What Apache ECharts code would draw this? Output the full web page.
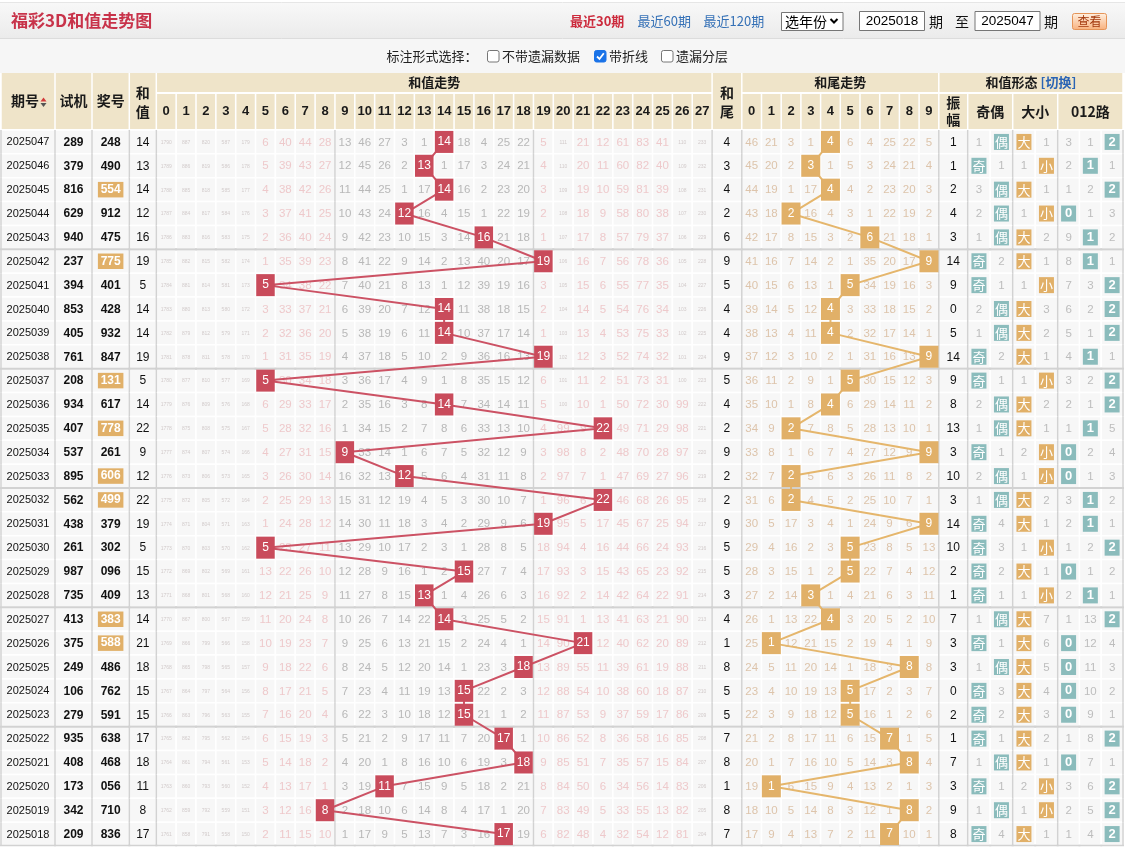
<!DOCTYPE html>
<html><head><meta charset="utf-8">
<script src="https://cdn.jsdelivr.net/npm/echarts@6/dist/echarts.min.js"></script>
<style>html,body{margin:0;padding:0;background:#fff}#c{width:1125px;height:848px}</style>
</head><body><div id="c"></div><script>
// ---------------- data ----------------
const periods = ['2025047','2025046','2025045','2025044','2025043','2025042','2025041','2025040','2025039','2025038','2025037','2025036','2025035','2025034','2025033','2025032','2025031','2025030','2025029','2025028','2025027','2025026','2025025','2025024','2025023','2025022','2025021','2025020','2025019','2025018'];
const trialNums = ['289','379','816','629','940','237','394','853','405','761','208','934','407','537','895','562','438','261','987','735','413','375','249','106','279','935','408','173','342','209'];
const prizeNums = ['248','490','554','912','475','775','401','428','932','847','131','617','778','261','606','499','379','302','096','409','383','588','486','762','591','638','468','056','710','836'];
const sumValues = [14,13,14,12,16,19,5,14,14,19,5,14,22,9,12,22,19,5,15,13,14,21,18,15,15,17,18,11,8,17];
const tailValues = [4,3,4,2,6,9,5,4,4,9,5,4,2,9,2,2,9,5,5,3,4,1,8,5,5,7,8,1,8,7];
const amplitudes = [1,1,2,4,3,14,9,0,5,14,9,8,13,3,10,3,14,10,2,1,7,3,3,0,2,1,7,3,9,8];

const sumTicks = ['0','1','2','3','4','5','6','7','8','9','10','11','12','13','14','15','16','17','18','19','20','21','22','23','24','25','26','27'];
const tailTicks = ['0','1','2','3','4','5','6','7','8','9'];
const oddEvenTicks = ['奇','偶'];
const bigSmallTicks = ['大','小'];
const roadTicks = ['0','1','2'];

// omission values per row ('*' = hit)
const sumMissRows = [
'1790 887 820 587 179 6 40 44 28 13 46 27 3 1 * 18 4 25 22 5 111 21 12 61 83 41 110 233',
'1789 886 819 586 178 5 39 43 27 12 45 26 2 * 1 17 3 24 21 4 110 20 11 60 82 40 109 232',
'1788 885 818 585 177 4 38 42 26 11 44 25 1 17 * 16 2 23 20 3 109 19 10 59 81 39 108 231',
'1787 884 817 584 176 3 37 41 25 10 43 24 * 16 4 15 1 22 19 2 108 18 9 58 80 38 107 230',
'1786 883 816 583 175 2 36 40 24 9 42 23 10 15 3 14 * 21 18 1 107 17 8 57 79 37 106 229',
'1785 882 815 582 174 1 35 39 23 8 41 22 9 14 2 13 40 20 17 * 106 16 7 56 78 36 105 228',
'1784 881 814 581 173 * 34 38 22 7 40 21 8 13 1 12 39 19 16 3 105 15 6 55 77 35 104 227',
'1783 880 813 580 172 3 33 37 21 6 39 20 7 12 * 11 38 18 15 2 104 14 5 54 76 34 103 226',
'1782 879 812 579 171 2 32 36 20 5 38 19 6 11 * 10 37 17 14 1 103 13 4 53 75 33 102 225',
'1781 878 811 578 170 1 31 35 19 4 37 18 5 10 2 9 36 16 13 * 102 12 3 52 74 32 101 224',
'1780 877 810 577 169 * 30 34 18 3 36 17 4 9 1 8 35 15 12 6 101 11 2 51 73 31 100 223',
'1779 876 809 576 168 6 29 33 17 2 35 16 3 8 * 7 34 14 11 5 100 10 1 50 72 30 99 222',
'1778 875 808 575 167 5 28 32 16 1 34 15 2 7 8 6 33 13 10 4 99 9 * 49 71 29 98 221',
'1777 874 807 574 166 4 27 31 15 * 33 14 1 6 7 5 32 12 9 3 98 8 2 48 70 28 97 220',
'1776 873 806 573 165 3 26 30 14 16 32 13 * 5 6 4 31 11 8 2 97 7 1 47 69 27 96 219',
'1775 872 805 572 164 2 25 29 13 15 31 12 19 4 5 3 30 10 7 1 96 6 * 46 68 26 95 218',
'1774 871 804 571 163 1 24 28 12 14 30 11 18 3 4 2 29 9 6 * 95 5 17 45 67 25 94 217',
'1773 870 803 570 162 * 23 27 11 13 29 10 17 2 3 1 28 8 5 18 94 4 16 44 66 24 93 216',
'1772 869 802 569 161 13 22 26 10 12 28 9 16 1 2 * 27 7 4 17 93 3 15 43 65 23 92 215',
'1771 868 801 568 160 12 21 25 9 11 27 8 15 * 1 4 26 6 3 16 92 2 14 42 64 22 91 214',
'1770 867 800 567 159 11 20 24 8 10 26 7 14 22 * 3 25 5 2 15 91 1 13 41 63 21 90 213',
'1769 866 799 566 158 10 19 23 7 9 25 6 13 21 15 2 24 4 1 14 90 * 12 40 62 20 89 212',
'1768 865 798 565 157 9 18 22 6 8 24 5 12 20 14 1 23 3 * 13 89 55 11 39 61 19 88 211',
'1767 864 797 564 156 8 17 21 5 7 23 4 11 19 13 * 22 2 3 12 88 54 10 38 60 18 87 210',
'1766 863 796 563 155 7 16 20 4 6 22 3 10 18 12 * 21 1 2 11 87 53 9 37 59 17 86 209',
'1765 862 795 562 154 6 15 19 3 5 21 2 9 17 11 7 20 * 1 10 86 52 8 36 58 16 85 208',
'1764 861 794 561 153 5 14 18 2 4 20 1 8 16 10 6 19 3 * 9 85 51 7 35 57 15 84 207',
'1763 860 793 560 152 4 13 17 1 3 19 * 7 15 9 5 18 2 21 8 84 50 6 34 56 14 83 206',
'1762 859 792 559 151 3 12 16 * 2 18 10 6 14 8 4 17 1 20 7 83 49 5 33 55 13 82 205',
'1761 858 791 558 150 2 11 15 10 1 17 9 5 13 7 3 16 * 19 6 82 48 4 32 54 12 81 204'];

const tailMissRows = [
'46 21 3 1 * 6 4 25 22 5','45 20 2 * 1 5 3 24 21 4','44 19 1 17 * 4 2 23 20 3','43 18 * 16 4 3 1 22 19 2','42 17 8 15 3 2 * 21 18 1',
'41 16 7 14 2 1 35 20 17 *','40 15 6 13 1 * 34 19 16 3','39 14 5 12 * 3 33 18 15 2','38 13 4 11 * 2 32 17 14 1','37 12 3 10 2 1 31 16 13 *',
'36 11 2 9 1 * 30 15 12 3','35 10 1 8 * 6 29 14 11 2','34 9 * 7 8 5 28 13 10 1','33 8 1 6 7 4 27 12 9 *','32 7 * 5 6 3 26 11 8 2',
'31 6 * 4 5 2 25 10 7 1','30 5 17 3 4 1 24 9 6 *','29 4 16 2 3 * 23 8 5 13','28 3 15 1 2 * 22 7 4 12','27 2 14 * 1 4 21 6 3 11',
'26 1 13 22 * 3 20 5 2 10','25 * 12 21 15 2 19 4 1 9','24 5 11 20 14 1 18 3 * 8','23 4 10 19 13 * 17 2 3 7','22 3 9 18 12 * 16 1 2 6',
'21 2 8 17 11 6 15 * 1 5','20 1 7 16 10 5 14 3 * 4','19 * 6 15 9 4 13 2 1 3','18 10 5 14 8 3 12 1 * 2','17 9 4 13 7 2 11 * 10 1'];

const oddEvenRows = ['1 *','* 1','3 *','2 *','1 *','* 2','* 1','2 *','1 *','* 2','* 1','2 *','1 *','* 1','2 *','1 *','* 4','* 3','* 2','* 1','1 *','* 1','1 *','* 3','* 2','* 1','1 *','* 1','1 *','* 4'];
const bigSmallRows = ['* 1','1 *','* 1','1 *','* 2','* 1','1 *','* 3','* 2','* 1','1 *','* 2','* 1','2 *','1 *','* 2','* 1','1 *','* 1','1 *','* 7','* 6','* 5','* 4','* 3','* 2','* 1','2 *','1 *','* 1'];
const road012Rows = ['3 1 *','2 * 1','1 2 *','* 1 3','9 * 2','8 * 1','7 3 *','6 2 *','5 1 *','4 * 1','3 2 *','2 1 *','1 * 5','* 2 4','* 1 3','3 * 2','2 * 1','1 2 *','* 1 2','2 * 1','1 13 *','* 12 4','* 11 3','* 10 2','* 9 1','1 8 *','* 7 1','3 6 *','2 5 *','1 4 *'];

// ---------------- styles / layout ----------------
const FONT = "'Liberation Sans', 'Noto Sans CJK SC', sans-serif";
const CJK = "'Noto Sans CJK SC', 'Liberation Sans', sans-serif";
const BEIGE = '#efe4c9', CELL_BG = '#f7f7f7', SEP = '#d2d2d2';
const RED = '#c94b5b', TAN = '#e1b068', TEAL = '#8bbcbc';
const TOP = 130, H = 716;
const layout = {
  period: [1, 54], trial: [55, 37], prize: [92, 37.3], sum: [129.3, 27],
  sumTrend: [156.3, 555.8], tail: [712.1, 29.7], tailTrend: [741.8, 197],
  amp: [938.8, 28.9], oe: [967.7, 45], bs: [1012.7, 45], road: [1057.7, 65.3],
  formHead: [938.8, 184.2]
};
const STYLES = {
  period: {color:'#111', size:11},
  num: {color:'#111', size:12, weight:'bold'},
  val: {color:'#111', size:12},
  missG: {color:'#b8b8b8', size:11.5},
  missP: {color:'#eec9cb', size:11.5},
  missT: {color:'#ddc4ab', size:11.5},
  missF: {color:'#bdbdbd', size:11.5},
  tiny: {color:'#d2cbcb', size:5}
};

const grids = [], xAxes = [], yAxes = [], series = [];
function addGrid(key) {
  const [left, width] = layout[key];
  grids.push({left, top: TOP, width, height: H, show: false, containLabel: false, outerBoundsMode: 'none'});
  yAxes.push({type:'category', gridIndex: grids.length-1, data: periods, inverse: true, show: false});
  return grids.length - 1;
}
function addXAxis(gi, data, label, offset) {
  xAxes.push({type:'category', gridIndex: gi, data, position:'top', offset: offset||0,
    axisLine:{show:false}, axisTick:{show:false}, splitLine:{show:false}, splitArea:{show:false},
    axisLabel: label ? Object.assign({show:true, interval:0, margin:1, hideOverlap:false}, label) : {show:false}});
  return xAxes.length - 1;
}
function hdr(w, h, extra) {
  return Object.assign({width:w, height:h, lineHeight:h, backgroundColor:BEIGE, color:'#1a1a1a',
    fontSize:13, fontWeight:'bold', fontFamily:CJK, align:'center', padding:0, overflow:'none'}, extra||{});
}
function addCells(gi, xi, cells, sepCols, rightEdgeCol) {
  const nRows = periods.length;
  series.push({
    type:'custom', xAxisIndex:xi, yAxisIndex:gi, z:1, silent:true, animation:false,
    data: cells.map(c => [c[0], c[1]]),
    renderItem: function (params, api) {
      const c = cells[params.dataIndex];
      const p = api.coord([c[0], c[1]]);
      const s = api.size([1, 1]);
      const x0 = p[0] - s[0]/2, y0 = p[1] - s[1]/2;
      const ch = [{type:'rect', z2:0, shape:{x:x0, y:y0, width:s[0], height:s[1]}, style:{fill:CELL_BG, stroke:'#fff', lineWidth:1.5}}];
      const st = STYLES[c[3]];
      if (c[2] !== '' && st) ch.push({type:'text', z2:5, style:{text:c[2], x:p[0], y:p[1]+0.5, align:'center', verticalAlign:'middle',
        fill:st.color, fontSize:st.size, fontWeight:st.weight||'normal', fontFamily:FONT}});
      if (c[1] % 5 === 0 && c[1] > 0) ch.push({type:'line', z2:8, shape:{x1:x0-1, y1:y0, x2:x0+s[0]+1, y2:y0}, style:{stroke:SEP, lineWidth:2}});
      if (c[1] === nRows-1) ch.push({type:'line', z2:8, shape:{x1:x0-1, y1:y0+s[1]-0.5, x2:x0+s[0]+1, y2:y0+s[1]-0.5}, style:{stroke:SEP, lineWidth:1.5}});
      if (sepCols.indexOf(c[0]) >= 0) ch.push({type:'line', z2:8, shape:{x1:x0, y1:y0, x2:x0, y2:y0+s[1]}, style:{stroke:SEP, lineWidth:1.5}});
      if (rightEdgeCol === c[0]) ch.push({type:'line', z2:8, shape:{x1:x0+s[0], y1:y0, x2:x0+s[0], y2:y0+s[1]}, style:{stroke:SEP, lineWidth:1.5}});
      return {type:'group', children: ch};
    }
  });
}
function addHits(gi, xi, items, color, size, font, fontSize, weight) {
  series.push({type:'scatter', xAxisIndex:xi, yAxisIndex:gi, z:3, silent:true, animation:false,
    symbol:'rect', symbolSize:size, itemStyle:{color:color, opacity:1},
    data: items.map(it => [it[0], it[1]]),
    label:{show:true, position:'inside', formatter: p => items[p.dataIndex][2], color:'#fff',
      fontSize:fontSize, fontFamily:font, fontWeight:weight||'normal'}});
}
function addLine(gi, xi, values, color) {
  series.push({type:'line', xAxisIndex:xi, yAxisIndex:gi, z:2, silent:true, animation:false, symbol:'none',
    data: values.map((v, i) => [v, i]), lineStyle:{color:color, width:2}});
}
const split = s => s.trim().split(/\s+/);
const hasPair = s => s[0]===s[1] || s[1]===s[2] || s[0]===s[2];

// period
let gi = addGrid('period');
let xi = addXAxis(gi, ['期号'], hdr(46.5, 56, {padding:[0,6,0,0], fontSize:14}));
addCells(gi, xi, periods.map((p, i) => [0, i, p, 'period']), [0]);
// trial
gi = addGrid('trial');
xi = addXAxis(gi, ['试机'], hdr(35.5, 56, {fontSize:14}));
addCells(gi, xi, trialNums.map((p, i) => [0, i, p, 'num']), [0]);
// prize
gi = addGrid('prize');
xi = addXAxis(gi, ['奖号'], hdr(35.8, 56, {fontSize:14}));
addCells(gi, xi, prizeNums.map((p, i) => [0, i, hasPair(p) ? '' : p, 'num']), [0]);
addHits(gi, xi, prizeNums.map((p, i) => [0, i, p]).filter(d => hasPair(d[2])), TAN, [25.5, 15.5], FONT, 12, 'bold');
// sum value
gi = addGrid('sum');
xi = addXAxis(gi, ['和\n值'], hdr(25.5, undefined, {lineHeight:19, padding:[10,0,8,0], fontSize:14}));
addCells(gi, xi, sumValues.map((v, i) => [0, i, String(v), 'val']), [0]);
// sum trend
gi = addGrid('sumTrend');
xi = addXAxis(gi, sumTicks, hdr(18.3, 35, {fontFamily:FONT}));
addXAxis(gi, ['和值走势'], hdr(554.3, 19), 37);
const sumCells = [], sumHits = [];
sumMissRows.forEach((row, r) => split(row).forEach((v, c) => {
  if (v === '*') { sumCells.push([c, r, '', 'missG']); sumHits.push([c, r, sumTicks[c]]); }
  else sumCells.push([c, r, v, (+v >= 100) ? 'tiny' : ((c <= 8 || c >= 19) ? 'missP' : 'missG')]);
}));
addCells(gi, xi, sumCells, [0, 9, 19]);
addLine(gi, xi, sumValues, '#cc5264');
addHits(gi, xi, sumHits, RED, [18.5, 22], FONT, 12);
// tail value
gi = addGrid('tail');
xi = addXAxis(gi, ['和\n尾'], hdr(28.2, undefined, {lineHeight:19, padding:[10,0,8,0], fontSize:14}));
addCells(gi, xi, tailValues.map((v, i) => [0, i, String(v), 'val']), [0]);
// tail trend
gi = addGrid('tailTrend');
xi = addXAxis(gi, tailTicks, hdr(18.2, 35, {fontFamily:FONT}));
addXAxis(gi, ['和尾走势'], hdr(195.5, 19), 37);
const tailCells = [], tailHits = [];
tailMissRows.forEach((row, r) => split(row).forEach((v, c) => {
  if (v === '*') { tailCells.push([c, r, '', 'missT']); tailHits.push([c, r, tailTicks[c]]); }
  else tailCells.push([c, r, v, 'missT']);
}));
addCells(gi, xi, tailCells, [0]);
addLine(gi, xi, tailValues, '#e5b66c');
addHits(gi, xi, tailHits, TAN, [19, 22], FONT, 12);
// amplitude
gi = addGrid('amp');
xi = addXAxis(gi, ['振\n幅'], hdr(27.4, undefined, {lineHeight:17, padding:[0.5,0,0.5,0], fontSize:14}));
addCells(gi, xi, amplitudes.map((v, i) => [0, i, String(v), 'val']), [0]);
// form sections
function formSection(key, ticks, title, rows, hitColor, rightEdge) {
  const g = addGrid(key);
  const x = addXAxis(g, ticks, null);
  addXAxis(g, [title], hdr(layout[key][1] - 1.5, 35, {fontSize:14}));
  const cells = [], hits = [];
  rows.forEach((row, r) => split(row).forEach((v, c) => {
    if (v === '*') { cells.push([c, r, '', 'missF']); hits.push([c, r, ticks[c]]); }
    else cells.push([c, r, v, 'missF']);
  }));
  addCells(g, x, cells, [0], rightEdge ? ticks.length - 1 : undefined);
  addHits(g, x, hits, hitColor, [15, 16], /\d/.test(ticks[0]) ? FONT : CJK, 13, /\d/.test(ticks[0]) ? 'bold' : 'normal');
}
formSection('oe', oddEvenTicks, '奇偶', oddEvenRows, TEAL);
formSection('bs', bigSmallTicks, '大小', bigSmallRows, TAN);
formSection('road', roadTicks, '012路', road012Rows, TEAL, true);
// form header (row 1)
gi = addGrid('formHead');
addXAxis(gi, ['和值形态 [切换]'], hdr(182.7, 19, {
  formatter: '{a|和值形态 }{b|[切换]}',
  rich: {a:{fontSize:13, fontWeight:'bold', color:'#1a1a1a', fontFamily:CJK, lineHeight:19},
         b:{fontSize:13, fontWeight:'bold', color:'#2a64b4', fontFamily:CJK, lineHeight:19}}}), 37);

// ---------------- page chrome ----------------
const txt = (x, y, text, o) => ({type:'text', x, y, silent:true, style:Object.assign({text, fill:'#111', fontSize:13, fontFamily:CJK, verticalAlign:'middle'}, o||{})});
const box = (x, y, w, h, o) => ({type:'rect', silent:true, shape:Object.assign({x, y, width:w, height:h}, o && o.r ? {r:o.r} : {}), style:Object.assign({fill:'#fff', stroke:'#767676', lineWidth:1}, o && o.style || {})});
const graphic = [
  {type:'rect', silent:true, z:-10, shape:{x:0, y:3, width:1125, height:35}, style:{fill:new echarts.graphic.LinearGradient(0,0,0,1,[{offset:0,color:'#f8f8f8'},{offset:1,color:'#ebebeb'}])}},
  {type:'rect', silent:true, z:-10, shape:{x:0, y:38, width:1125, height:35}, style:{fill:'#f6f6f6'}},
  {type:'line', silent:true, shape:{x1:0, y1:38.5, x2:1125, y2:38.5}, style:{stroke:'#dcdcdc', lineWidth:1}},
  {type:'line', silent:true, shape:{x1:0, y1:2.5, x2:1125, y2:2.5}, style:{stroke:'#e6e6e6', lineWidth:1}},
  txt(11, 21, '福彩3D和值走势图', {fill:'#c8334a', fontSize:17, fontWeight:'bold'}),
  txt(570, 21.5, '最近30期', {fill:'#cc2a3c', fontWeight:'bold'}),
  txt(637.5, 21.5, '最近60期', {fill:'#3470b6'}),
  txt(703.5, 21.5, '最近120期', {fill:'#3470b6'}),
  box(781.5, 12.5, 61.5, 18),
  txt(785, 21.5, '选年份', {fontSize:14, fill:'#000'}),
  {type:'polyline', silent:true, shape:{points:[[830.5,19],[834,22.5],[837.5,19]]}, style:{stroke:'#000', lineWidth:2, fill:null}},
  box(859.5, 11.5, 65, 19),
  txt(892, 21.5, '2025018', {fontFamily:FONT, fontSize:13.5, align:'center', fill:'#000'}),
  txt(929, 21.5, '期', {fontSize:14}),
  txt(955, 21.5, '至', {fontSize:14}),
  box(975, 11.5, 65, 19),
  txt(1007.5, 21.5, '2025047', {fontFamily:FONT, fontSize:13.5, align:'center', fill:'#000'}),
  txt(1044, 21.5, '期', {fontSize:14}),
  box(1072.5, 13.5, 34, 16, {r:2, style:{fill:new echarts.graphic.LinearGradient(0,0,0,1,[{offset:0,color:'#fff1e2'},{offset:1,color:'#f8b07c'}]), stroke:'#e59458'}}),
  txt(1089.5, 21.8, '查看', {fontSize:12, align:'center', fill:'#a3390e'}),
  txt(386.5, 56.5, '标注形式选择：', {fill:'#222'}),
  box(487.5, 50.5, 11.5, 11.5, {r:2}),
  txt(502, 56.5, '不带遗漏数据', {fill:'#222'}),
  box(594.5, 50.5, 11.5, 11.5, {r:2, style:{fill:'#1a73e8', stroke:'#1a73e8'}}),
  {type:'polyline', silent:true, shape:{points:[[597,56.5],[599.5,59],[603.8,53.3]]}, style:{stroke:'#fff', lineWidth:1.8, fill:null}},
  txt(609, 56.5, '带折线', {fill:'#222'}),
  box(661.5, 50.5, 11.5, 11.5, {r:2}),
  txt(676, 56.5, '遗漏分层', {fill:'#222'}),
  {type:'polygon', silent:true, z:100, shape:{points:[[40.5,101.5],[43.5,97.5],[46.5,101.5]]}, style:{fill:'#d23a3a'}},
  {type:'polygon', silent:true, z:100, shape:{points:[[40.5,103],[46.5,103],[43.5,107]]}, style:{fill:'#555'}}
];

const chart = echarts.init(document.getElementById('c'), null, {renderer:'canvas'});
chart.setOption({animation:false, backgroundColor:'#ffffff', tooltip:{show:false},
  grid:grids, xAxis:xAxes, yAxis:yAxes, series:series, graphic:graphic});
</script></body></html>
